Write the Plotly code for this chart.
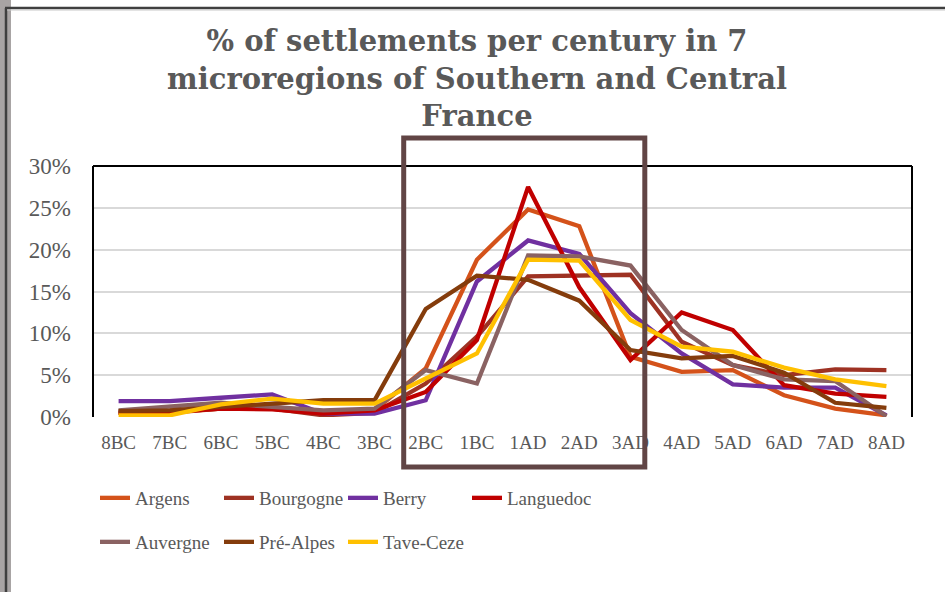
import plotly.graph_objects as go

categories = ["8BC", "7BC", "6BC", "5BC", "4BC", "3BC", "2BC", "1BC",
              "1AD", "2AD", "3AD", "4AD", "5AD", "6AD", "7AD", "8AD"]
argens = [0.5, 0.5, 1.0, 1.2, 0.5, 0.8, 5.8, 18.8, 24.8, 22.8, 7.2, 5.4, 5.6, 2.6, 1.0, 0.2]
bourgogne = [0.6, 0.6, 1.0, 1.0, 0.2, 0.5, 4.0, 9.6, 16.8, 16.9, 17.0, 9.0, 6.2, 5.0, 5.7, 5.6]
berry = [1.9, 1.9, 2.3, 2.7, 0.4, 0.4, 2.0, 16.2, 21.1, 19.5, 12.4, 7.6, 3.9, 3.5, 3.5, 0.2]
languedoc = [0.5, 0.6, 1.0, 0.9, 0.4, 0.8, 3.0, 9.2, 27.5, 15.5, 6.8, 12.5, 10.4, 3.8, 2.8, 2.4]
auvergne = [0.8, 1.2, 1.7, 1.2, 0.8, 1.0, 5.6, 4.0, 19.3, 19.2, 18.1, 10.4, 6.2, 4.5, 4.3, 0.1]
pre_alpes = [0.7, 0.8, 1.2, 1.6, 2.0, 2.0, 12.9, 16.9, 16.4, 13.9, 8.0, 7.0, 7.3, 5.3, 1.7, 1.1]
tave_ceze = [0.2, 0.2, 1.5, 2.2, 1.6, 1.6, 4.6, 7.6, 18.8, 18.7, 11.6, 8.4, 7.8, 5.9, 4.5, 3.7]

series_names = ["Argens", "Bourgogne", "Berry", "Languedoc", "Auvergne", "Pré-Alpes", "Tave-Ceze"]
series_values = [argens, bourgogne, berry, languedoc, auvergne, pre_alpes, tave_ceze]
series_colors = ["#D4521A", "#9E3223", "#7030A0", "#C00000", "#8A6262", "#843C0C", "#FFC000"]
series_legend = ["legend", "legend", "legend", "legend", "legend2", "legend2", "legend2"]

y_ticks = [0, 5, 10, 15, 20, 25, 30]
y_ticktext = ["0%", "5%", "10%", "15%", "20%", "25%", "30%"]
box_start, box_end = "2BC", "3AD"

W, H = 945, 592
L, R, T, B = 93, 912, 166, 417


def px(xp):
    return (xp - L) / (R - L)


def py(yp):
    return (B - yp) / (B - T)


fig = go.Figure()
for name, vals, col, lg in zip(series_names, series_values, series_colors, series_legend):
    fig.add_trace(go.Scatter(
        x=categories, y=vals, mode="lines", name=name, legend=lg,
        line=dict(color=col, width=4.3), hoverinfo="skip"))

n = len(categories)
bx0 = (categories.index(box_start) + 0.5 - 0.43) / n
bx1 = (categories.index(box_end) + 0.5 + 0.28) / n

shapes = [
    # left gray strip of the frame
    dict(type="rect", xref="paper", yref="paper", x0=px(0), x1=px(11), y0=py(600), y1=py(0),
         fillcolor="#A8A4A4", line=dict(width=0), layer="below"),
    dict(type="line", xref="paper", yref="paper", x0=px(6), x1=px(6), y0=py(600), y1=py(8),
         line=dict(color="#3F3F3F", width=2.5)),
    dict(type="line", xref="paper", yref="paper", x0=px(5), x1=px(950), y0=py(8), y1=py(8),
         line=dict(color="#3F3F3F", width=2.5)),
    dict(type="line", xref="paper", yref="paper", x0=px(7), x1=px(950), y0=py(10), y1=py(10),
         line=dict(color="#C8C8C8", width=1)),
    # plot border (top, left, right)
    dict(type="line", xref="paper", yref="paper", x0=0, x1=1, y0=1, y1=1,
         line=dict(color="black", width=2)),
    dict(type="line", xref="paper", yref="paper", x0=0, x1=0, y0=0, y1=1,
         line=dict(color="black", width=2)),
    dict(type="line", xref="paper", yref="paper", x0=1, x1=1, y0=0, y1=1,
         line=dict(color="black", width=2)),
    # highlight box
    dict(type="rect", xref="paper", yref="paper", x0=bx0, x1=bx1, y0=py(467), y1=py(138),
         line=dict(color="#614545", width=5), fillcolor="rgba(0,0,0,0)"),
]

fig.update_layout(
    width=W, height=H,
    margin=dict(l=L, r=W - R, t=T, b=H - B),
    paper_bgcolor="white", plot_bgcolor="white",
    title=dict(
        text="% of settlements per century in 7<br>microregions of Southern and Central<br>France",
        x=477 / W, xanchor="center", y=1 - 51 / H, yanchor="top",
        font=dict(family="DejaVu Serif", size=29, color="#595959", weight="bold")),
    xaxis=dict(type="category", range=[-0.5, n - 0.5], showgrid=False, showline=False,
               ticks="", ticklabelstandoff=12,
               tickfont=dict(family="Liberation Serif", size=19, color="#595959")),
    yaxis=dict(range=[0, 30], tickvals=y_ticks, ticktext=y_ticktext, showgrid=True,
               gridcolor="#D9D9D9", gridwidth=1.5, zeroline=False, showline=False,
               ticks="", ticklabelstandoff=21,
               tickfont=dict(family="Liberation Serif", size=23, color="#595959")),
    shapes=shapes,
    showlegend=True,
    legend=dict(orientation="h", x=px(95), xanchor="left", y=py(479), yanchor="top",
                entrywidth=79, entrywidthmode="pixels", bgcolor="rgba(0,0,0,0)",
                font=dict(family="Liberation Serif", size=19, color="#595959")),
    legend2=dict(orientation="h", x=px(95), xanchor="left", y=py(523), yanchor="top",
                 entrywidth=79, entrywidthmode="pixels", bgcolor="rgba(0,0,0,0)",
                 font=dict(family="Liberation Serif", size=19, color="#595959")),
)

fig.write_html("out.html", config={"displayModeBar": False},
               post_script="document.body.style.margin='0px';")
